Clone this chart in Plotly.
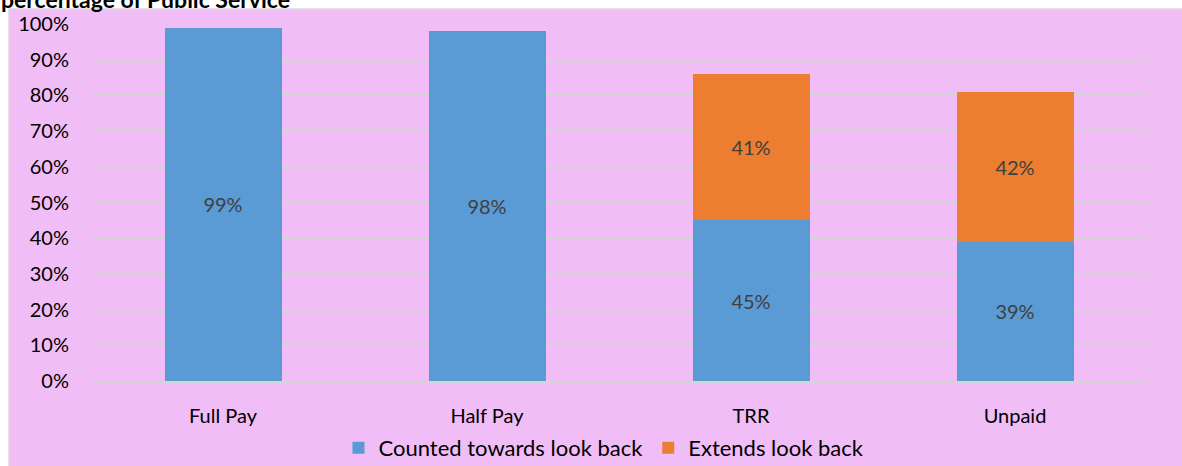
import plotly.graph_objects as go

# Chart data
categories = ["Full Pay", "Half Pay", "TRR", "Unpaid"]
counted = [99, 98, 45, 39]
extends = [None, None, 41, 42]
y_ticks = list(range(0, 101, 10))
y_tick_labels = [f"{v}%" for v in y_ticks]

W, H = 1182, 466
L, R, T, B = 91, 35, 24, 85
PW, PH = W - L - R, H - T - B

BLUE = "#5B9BD5"
ORANGE = "#ED7D31"
PINK = "#F0BDF7"
GRID = "#D4D4D4"
FONT = "Lato"


def px_x(x):
    return (x - L) / PW


def px_y(y):
    return (H - B - y) / PH


fig = go.Figure()
fig.add_trace(go.Bar(
    x=categories, y=counted, name="Counted towards look back",
    marker=dict(color=BLUE, line=dict(width=0)),
    text=[f"{v}%" for v in counted], textposition="inside",
    insidetextanchor="middle",
    textfont=dict(color="#404040", size=20, family=FONT),
))
fig.add_trace(go.Bar(
    x=categories, y=extends, name="Extends look back",
    marker=dict(color=ORANGE, line=dict(width=0)),
    text=[f"{v}%" if v is not None else "" for v in extends],
    textposition="inside", insidetextanchor="middle",
    textfont=dict(color="#404040", size=20, family=FONT),
))

# Pink chart area with a light border on the left and top
fig.add_shape(type="rect", xref="paper", yref="paper",
              x0=px_x(9), x1=px_x(W + 5), y0=px_y(H + 5), y1=px_y(9),
              fillcolor=PINK, line=dict(color="#D9D9D9", width=1.5),
              layer="below")

# Title, clipped at the top of the page
fig.add_annotation(text="<b>percentage of Public Service</b>",
                   xref="paper", yref="paper", x=px_x(-1), y=px_y(15),
                   xanchor="left", yanchor="bottom", showarrow=False,
                   font=dict(size=23, family=FONT, color="black"))

fig.update_layout(
    width=W, height=H,
    margin=dict(l=L, r=R, t=T, b=B, autoexpand=False),
    barmode="stack", bargap=1 - 117 / 264,
    paper_bgcolor="white", plot_bgcolor="rgba(0,0,0,0)",
    font=dict(family=FONT, size=20, color="black"),
    uniformtext=dict(minsize=20, mode="show"),
    showlegend=True,
    legend=dict(orientation="h", x=px_x(604), y=px_y(448),
                xanchor="center", yanchor="middle",
                bgcolor="rgba(0,0,0,0)", font=dict(size=22, family=FONT),
                itemwidth=30, traceorder="normal"),
)
fig.update_yaxes(range=[0, 100], tickvals=y_ticks, ticktext=y_tick_labels,
                 showgrid=True, gridcolor=GRID, gridwidth=1.5,
                 zeroline=False, showline=False,
                 ticks="outside", ticklen=17, tickcolor="rgba(0,0,0,0)",
                 tickfont=dict(size=20, family=FONT, color="black"))
fig.update_xaxes(showgrid=False, showline=True, linecolor=GRID, linewidth=1.5,
                 ticks="outside", ticklen=16, tickcolor="rgba(0,0,0,0)",
                 tickfont=dict(size=20, family=FONT, color="black"))

fig.write_html("out.html")
